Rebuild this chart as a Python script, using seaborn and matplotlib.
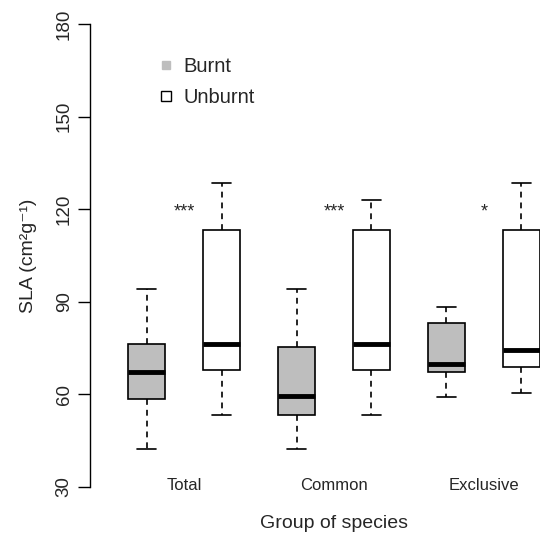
import matplotlib
matplotlib.use("Agg")
import matplotlib.pyplot as plt
from matplotlib.lines import Line2D
import seaborn as sns
import pandas as pd

# groups of species and treatments
groups = ["Total", "Common", "Exclusive"]
treatments = ["Burnt", "Unburnt"]

# five-number summaries: min, q1, median, q3, max
burnt_stats = [
    [42.3, 58.3, 67.3, 76.3, 94.1],
    [42.3, 53.2, 59.5, 75.4, 94.1],
    [59.0, 67.3, 69.7, 83.1, 88.2],
]
unburnt_stats = [
    [53.4, 67.7, 76.3, 113.2, 128.4],
    [53.4, 67.7, 76.3, 113.2, 122.8],
    [60.3, 68.9, 74.4, 113.2, 128.4],
]
signif = ["***", "***", "*"]
signif_y = 117.5
y_ticks = [30, 60, 90, 120, 150, 180]
box_colors = ["#bebebe", "white"]

rows = []
for g, b, u in zip(groups, burnt_stats, unburnt_stats):
    for v in b:
        rows.append({"group": g, "treatment": "Burnt", "SLA": v})
    for v in u:
        rows.append({"group": g, "treatment": "Unburnt", "SLA": v})
df = pd.DataFrame(rows)

sns.set_style("white")
plt.rcParams["font.family"] = ["Liberation Sans", "DejaVu Sans"]

fig = plt.figure(figsize=(5.4, 5.38), dpi=100)
ax = fig.add_axes([90 / 540, 1 - 486.7 / 538, 488 / 540, 462.7 / 538])

sns.boxplot(data=df, x="group", y="SLA", hue="treatment", order=groups,
            hue_order=treatments, palette=box_colors, saturation=1,
            width=1.0, gap=0.5, whis=(0, 100), showfliers=False,
            linecolor="black", linewidth=1.2,
            medianprops=dict(linewidth=3.5),
            whiskerprops=dict(linestyle=(0, (3.5, 3))),
            legend=False, ax=ax)

for i, s in enumerate(signif):
    ax.text(i, signif_y, s, ha="center", va="baseline", fontsize=13)

ax.set_xlim(-0.6267, 2.6267)
ax.set_ylim(30, 180)
ax.set_yticks(y_ticks)
sns.despine(ax=ax, bottom=True)
ax.spines["left"].set_color("black")
ax.spines["left"].set_linewidth(1.0)

ax.tick_params(axis="y", left=True, length=8.5, width=1.0, pad=4,
               labelsize=13.5, labelrotation=90, color="black")
plt.setp(ax.get_yticklabels(), va="center")
ax.tick_params(axis="x", length=0, pad=-6.5, labelsize=12)

ax.set_xlabel("Group of species", fontsize=14, va="center")
ax.xaxis.set_label_coords(0.5, -0.0785)
ax.set_ylabel("SLA (cm²g⁻¹)", fontsize=14, va="center")
ax.yaxis.set_label_coords(-0.127, 0.5)

handles = [
    Line2D([], [], marker="s", linestyle="none", markersize=5.5,
           markerfacecolor="#bebebe", markeredgecolor="#bebebe"),
    Line2D([], [], marker="s", linestyle="none", markersize=6.5,
           markerfacecolor="white", markeredgecolor="black", markeredgewidth=1),
]
fig.legend(handles, treatments, loc="upper left",
           bbox_to_anchor=(156 / 540, 1 - 57 / 538), frameon=False,
           fontsize=14.5, handlelength=1, handletextpad=0.35,
           labelspacing=0.6, borderpad=0, borderaxespad=0)

fig.savefig("out.png", dpi=100)
